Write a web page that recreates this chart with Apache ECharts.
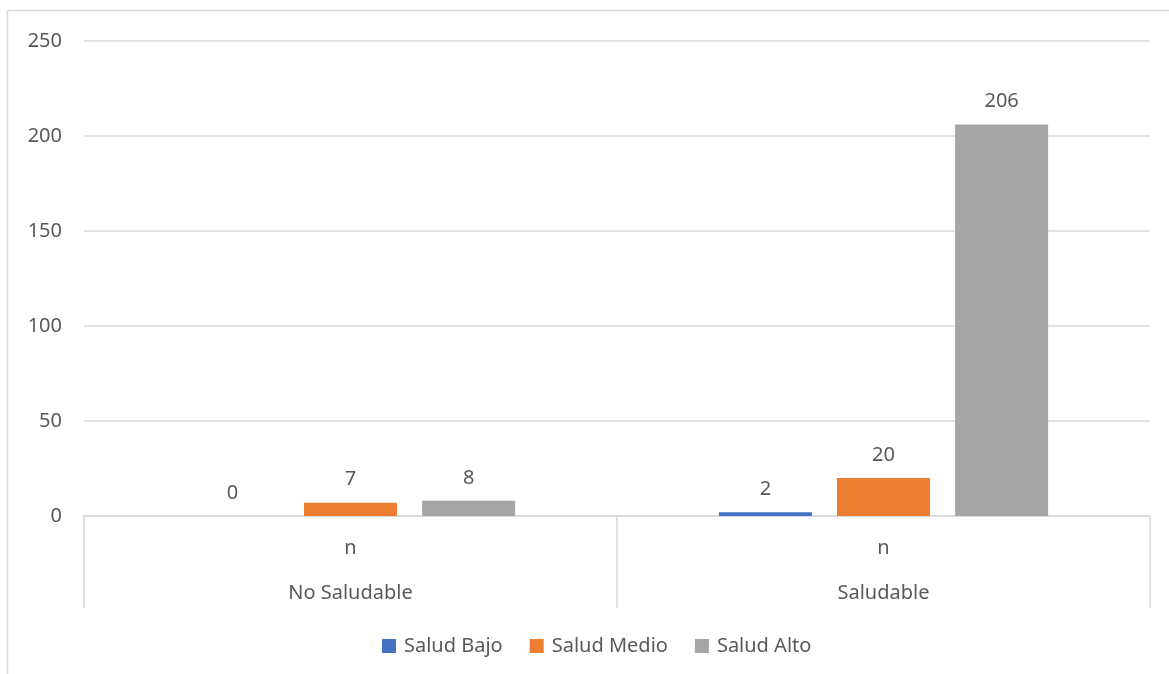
<!DOCTYPE html>
<html>
<head>
<meta charset="utf-8">
<style>
  html, body { margin: 0; padding: 0; background: #ffffff; }
  #chart { width: 1169px; height: 674px; }
</style>
<script src="https://cdn.jsdelivr.net/npm/echarts@6/dist/echarts.min.js"></script>
</head>
<body>
<div id="chart"></div>
<script>
// Categories and series values
const groups = ['No Saludable', 'Saludable'];
const subLabel = 'n';
const seriesNames = ['Salud Bajo', 'Salud Medio', 'Salud Alto'];
const saludBajo = [0, 2];
const saludMedio = [7, 20];
const saludAlto = [8, 206];
const colors = ['#4472C4', '#ED7D31', '#A5A5A5'];

const textColor = '#595959';
const fontFamily = 'Noto Sans, Open Sans, sans-serif';
const fontSize = 20;
const gridColor = '#d9d9d9';

const chart = echarts.init(document.getElementById('chart'), null, { renderer: 'canvas' });

function barSeries(name, data, color) {
  return {
    name: name,
    type: 'bar',
    data: data,
    barWidth: 93,
    barGap: '27%',
    itemStyle: { color: color },
    label: {
      show: true,
      position: 'top',
      distance: 13,
      color: textColor,
      fontSize: fontSize,
      fontFamily: fontFamily
    }
  };
}

chart.setOption({
  animation: false,
  backgroundColor: '#ffffff',
  graphic: [{
    type: 'rect',
    shape: { x: 7.5, y: 10.5, width: 1200, height: 700 },
    style: { fill: 'none', stroke: gridColor, lineWidth: 1.5 },
    silent: true,
    z: -10
  }],
  grid: { left: 84, right: 19, top: 41, bottom: 158 },
  legend: {
    bottom: 13,
    left: 377,
    itemWidth: 14,
    itemHeight: 14,
    itemGap: 27,
    icon: 'rect',
    textStyle: { color: textColor, fontSize: fontSize, fontFamily: fontFamily, padding: [0, 0, 0, 3] },
    data: seriesNames
  },
  xAxis: {
    type: 'category',
    data: groups,
    axisLine: { show: true, lineStyle: { color: gridColor, width: 1.5 } },
    axisTick: { show: true, alignWithLabel: false, length: 92, lineStyle: { color: gridColor, width: 1.5 } },
    axisLabel: {
      margin: 21,
      color: textColor,
      fontSize: fontSize,
      fontFamily: fontFamily,
      formatter: function (v) { return subLabel + '\n{g|' + v + '}'; },
      lineHeight: 22,
      rich: {
        g: { color: textColor, fontSize: fontSize, fontFamily: fontFamily, lineHeight: 68 }
      }
    }
  },
  yAxis: {
    type: 'value',
    min: 0,
    max: 250,
    interval: 50,
    axisLine: { show: false },
    axisTick: { show: false },
    splitLine: { lineStyle: { color: gridColor, width: 1.5 } },
    axisLabel: { color: textColor, fontSize: fontSize, fontFamily: fontFamily, margin: 22 }
  },
  series: [
    barSeries(seriesNames[0], saludBajo, colors[0]),
    barSeries(seriesNames[1], saludMedio, colors[1]),
    barSeries(seriesNames[2], saludAlto, colors[2])
  ]
});
</script>
</body>
</html>
